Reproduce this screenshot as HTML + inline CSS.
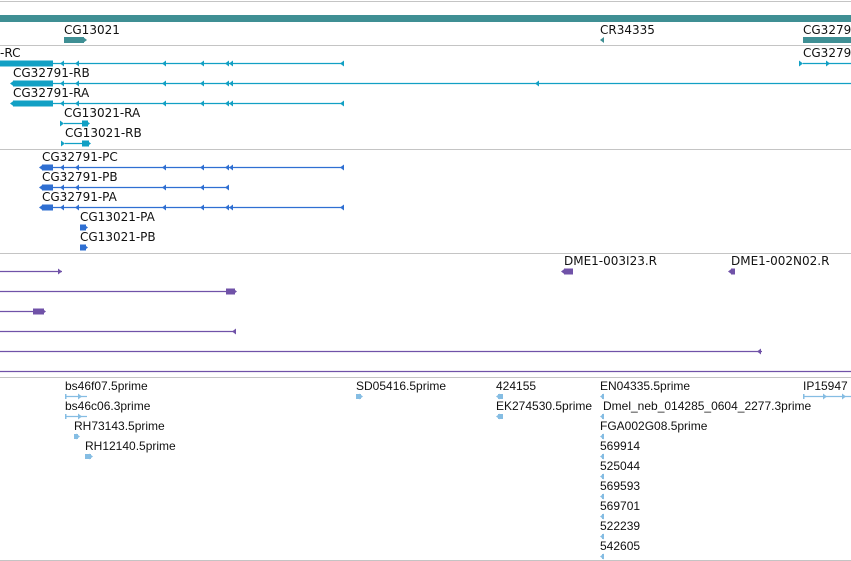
<!DOCTYPE html>
<html><head><meta charset="utf-8">
<style>
html,body{margin:0;padding:0;background:#fff;width:851px;height:561px;overflow:hidden}
svg{display:block}
.lbl{font-family:"DejaVu Sans","Liberation Sans",sans-serif;font-size:12px;fill:#111}
.est{font-family:"Liberation Sans",sans-serif;font-size:12px;fill:#111}
</style></head>
<body>
<svg id="view" width="851" height="561" viewBox="0 0 851 561" xmlns="http://www.w3.org/2000/svg"></svg>
<script>
// Track separators (y positions of gray divider lines)
const separators = [1, 45, 149, 253, 377, 560];

// Gene track
const geneLabels = ["CG13021", "CR34335", "CG3279"];
const geneLabelX = [64, 600, 803];
const geneStart = [64, 600, 803];
const geneEnd = [88, 605, 851];

// Transcript track: name, labelX, row, lineStart, lineEnd, thickStart, thickEnd, arrow positions, direction
const txNames = ["-RC", "CG32791-RB", "CG32791-RA", "CG13021-RA", "CG13021-RB", "CG3279"];
const txLabelX = [0, 13, 13, 64, 65, 803];
const txRow = [0, 1, 2, 3, 4, 0];
const txStart = [0, 13, 13, 64, 65, 803];
const txEnd = [342, 851, 342, 88, 89, 851];
const txThickStart = [0, 13, 13, 82, 82, 0];
const txThickEnd = [53, 53, 53, 88, 89, 0];
const txArrows = [[60,75,162,200,225,229,340],[60,75,162,200,225,229,535],[60,75,162,200,225,229,340],[64],[65],[803,830]];
const txDir = [-1,-1,-1,1,1,1];

// Protein track
const prNames = ["CG32791-PC", "CG32791-PB", "CG32791-PA", "CG13021-PA", "CG13021-PB"];
const prLabelX = [42, 42, 42, 80, 80];
const prStart = [42, 42, 42, 80, 80];
const prEnd = [342, 227, 342, 86, 86];
const prThickStart = [42, 42, 42, 80, 80];
const prThickEnd = [53, 53, 53, 86, 86];
const prArrows = [[60,75,162,200,225,229,340],[60,75,162,200,225],[60,75,162,200,225,229,340],[],[]];
const prDir = [-1,-1,-1,1,1];

// Clone / alignment track
const clNames = ["DME1-003I23.R", "DME1-002N02.R", "", "", "", "", ""];
const clLabelX = [564, 731, 0, 0, 0, 0, 0];
const clRow = [0, 0, 0, 1, 2, 3, 4, 5];
const clStart = [564, 731, 0, 0, 0, 0, 0, 0];
const clEnd = [573, 735, 62, 235, 44, 236, 762, 851];
const clThickStart = [564, 731, 0, 226, 33, 0, 0, 0];
const clThickEnd = [573, 735, 0, 235, 44, 0, 0, 0];
const clArrowPos = [[],[731],[62],[],[],[232],[757],[]];
const clDir = [-1,-1,1,1,1,-1,-1,0];

// EST track
const estNames = ["bs46f07.5prime","bs46c06.3prime","RH73143.5prime","RH12140.5prime","SD05416.5prime","424155","EK274530.5prime","EN04335.5prime","Dmel_neb_014285_0604_2277.3prime","FGA002G08.5prime","569914","525044","569593","569701","522239","542605","IP15947"];
const estX = [65,65,74,85,356,496,496,600,603,600,600,600,600,600,600,600,803];
const estRow = [0,1,2,3,0,0,1,0,1,2,3,4,5,6,7,8,0];
const estStart = [65,65,74,85,356,496,496,600,600,600,600,600,600,600,600,600,803];
const estEnd = [87,87,80,93,363,503,503,604,604,604,604,604,604,604,604,604,851];
const estDir = [1,1,1,1,1,-1,-1,-1,-1,-1,-1,-1,-1,-1,-1,-1,1];

const svg = document.getElementById('view');
const NS = "http://www.w3.org/2000/svg";
function mk(tag, attrs){const e=document.createElementNS(NS,tag);for(const k in attrs)e.setAttribute(k,attrs[k]);svg.appendChild(e);return e;}
function text(x,y,s,cls){const t=mk('text',{x:x,y:y,class:cls});t.textContent=s;return t;}
function arrow(x,y,dir,color,size){
  const s=size||4;
  const pts = dir<0 ? `${x},${y} ${x+s+1},${y-s} ${x+s+1},${y+s}` : `${x+s+1},${y} ${x},${y-s} ${x},${y+s}`;
  return mk('polygon',{points:pts,fill:color});
}

separators.forEach(y=>{
  const l=mk('line',{x1:0,x2:851,y1:y+0.5,y2:y+0.5,stroke:'#c4c4c4','stroke-width':1});
  
  
});

// Gene track
const GENE='#3f8f94';
const overview=mk('rect',{x:0,y:15,width:851,height:7,fill:GENE});


geneLabels.forEach((n,i)=>{
  const t=text(geneLabelX[i],34,n,'lbl');
  
  
  const w=geneEnd[i]-geneStart[i];
  if(w>8){const r=mk('rect',{x:geneStart[i],y:37,width:w-(i===0?4:0),height:6,fill:GENE});
    
    
    if(i===0) arrow(geneEnd[i]-5,40,1,GENE,3);}
  else {const a=arrow(geneStart[i],40,-1,GENE,3);
    
    }
});

function drawFeature(color,name,lx,baseY,s,e,ts,te,arrows,dir,cls,kind){
  if(name){const t=text(lx,baseY-6,name,cls);
    
    }
  const y=baseY;
  if(e-s>0){const l=mk('line',{x1:s,x2:e,y1:y+0.5,y2:y+0.5,stroke:color,'stroke-width':1.3});
    
    }
  if(te>ts){const r=mk('rect',{x:ts,y:y-2.5,width:te-ts,height:6,fill:color});
    
    
    arrow(dir<0?ts-3:te-2,y+0.5,dir,color,3);}
  arrows.forEach(a=>{const p=arrow(dir<0?a:a-4,y+0.5,dir,color,3);
    
    });
}

// Transcripts
const TX='#12a0c4';
txNames.forEach((n,i)=>{
  drawFeature(TX,n,txLabelX[i],63+txRow[i]*20,txStart[i],txEnd[i],txThickStart[i],txThickEnd[i],txArrows[i],txDir[i],'lbl','transcript');
});
// Proteins
const PR='#2f6fd2';
prNames.forEach((n,i)=>{
  drawFeature(PR,n,prLabelX[i],167+i*20,prStart[i],prEnd[i],prThickStart[i],prThickEnd[i],prArrows[i],prDir[i],'lbl','protein');
});
// Clones
const CL='#7052a8';
clRow.forEach((r,i)=>{
  drawFeature(CL,clNames[i]||'',clLabelX[i]||0,271+r*20,clStart[i],clEnd[i],clThickStart[i],clThickEnd[i],clArrowPos[i],clDir[i],'lbl','clone');
});
// ESTs
const EST='#85bde3';
estNames.forEach((n,i)=>{
  const y=396+estRow[i]*20;
  const t=text(estX[i],y-6,n,'est');
  
  
  const w=estEnd[i]-estStart[i];
  if(w>10){
    const l=mk('line',{x1:estStart[i],x2:estEnd[i],y1:y+0.5,y2:y+0.5,stroke:EST,'stroke-width':1.3});
    
    
    mk('rect',{x:estStart[i],y:y-2,width:1.5,height:5,fill:EST});
    arrow(estEnd[i]-9,y+0.5,1,EST,3);
    if(w>30) arrow(estStart[i]+20,y+0.5,1,EST,3);
  } else {
    const r=mk('rect',{x:estStart[i]+(estDir[i]<0?2:0),y:y-2,width:Math.max(w-2,2),height:5,fill:EST});
    
    
    arrow(estDir[i]<0?estStart[i]:estEnd[i]-4,y+0.5,estDir[i],EST,3);
  }
});
</script>
</body></html>
